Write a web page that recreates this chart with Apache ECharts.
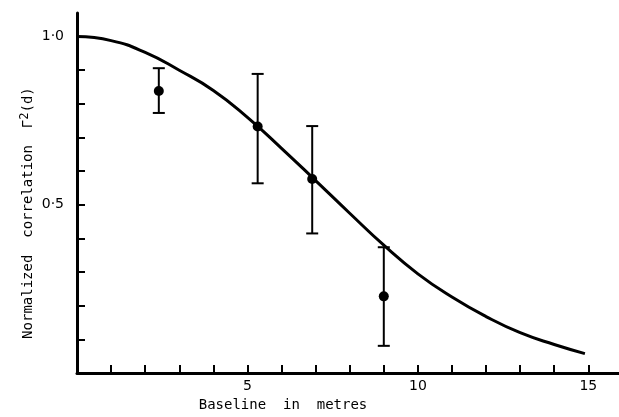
<!DOCTYPE html>
<html>
<head>
<meta charset="utf-8">
<script src="https://cdn.jsdelivr.net/npm/echarts@6/dist/echarts.min.js"></script>
<style>html,body{margin:0;padding:0;background:#fff;}#chart{width:619px;height:417px;}</style>
</head>
<body>
<div id="chart"></div>
<script>
// Measured data points with error bars
const pointX = [2.4, 5.3, 6.9, 9.0];
const pointY = [0.838, 0.733, 0.577, 0.228];
const errLow = [0.773, 0.564, 0.415, 0.081];
const errHigh = [0.906, 0.889, 0.734, 0.374];

// Theoretical curve
const curveX = [0, 1, 2, 3, 4, 5, 6, 7, 8, 9, 10, 11, 12, 13, 14, 14.9];
const curveY = [1.000, 0.988, 0.953, 0.900, 0.840, 0.760, 0.668, 0.572, 0.475, 0.380, 0.295, 0.226, 0.168, 0.120, 0.085, 0.058];

// Ticks and labels
const xTickValues = [1,2,3,4,5,6,7,8,9,10,11,12,13,14,15];
const xLabelValues = [5, 10, 15];
const yTickValues = [0.1,0.2,0.3,0.4,0.5,0.6,0.7,0.8,0.9,1.0];
const yLabelValues = [0.5, 1.0];

const xName = 'Baseline  in  metres';
const yName = 'Normalized  correlation  {g|Γ}{sup|2}{g|(d)}';

const chart = echarts.init(document.getElementById('chart'));
const font = 'DejaVu Sans';
const nameFont = 'DejaVu Sans Mono';

chart.setOption({
  animation: false,
  backgroundColor: '#ffffff',
  grid: { left: 77, right: 0, top: 13, bottom: 37 },
  xAxis: {
    type: 'value', min: 0, max: 15.9, interval: 1,
    splitLine: { show: false },
    axisLine: { onZero: false, lineStyle: { color: '#000', width: 3 } },
    axisTick: { inside: true, length: 8, lineStyle: { color: '#000', width: 2 }, customValues: xTickValues },
    axisLabel: { customValues: xLabelValues, color: '#000', fontFamily: font, fontSize: 14, margin: 6 },
    name: xName, nameLocation: 'middle', nameGap: 16,
    nameTextStyle: { color: '#000', fontFamily: nameFont, fontSize: 14, padding: [0, 130, 0, 0] }
  },
  yAxis: {
    type: 'value', min: 0, max: 1.07, interval: 0.1,
    splitLine: { show: false },
    axisLine: { onZero: false, lineStyle: { color: '#000', width: 3 } },
    axisTick: { inside: true, length: 8, lineStyle: { color: '#000', width: 2 }, customValues: yTickValues },
    axisLabel: {
      customValues: yLabelValues, color: '#000', fontFamily: font, fontSize: 14, margin: 13,
      formatter: v => v.toFixed(1).replace('.', '·')
    },
    name: yName, nameLocation: 'middle', nameGap: 40, nameRotate: 90, nameMoveOverlap: false,
    nameTextStyle: {
      color: '#000', fontFamily: nameFont, fontSize: 14, padding: [0, 40, 0, 0],
      rich: {
        g: { fontFamily: nameFont, fontSize: 14, color: '#000' },
        sup: { fontFamily: nameFont, fontSize: 12, color: '#000', verticalAlign: 'top', padding: [0, 0, 6, 0] }
      }
    }
  },
  series: [
    {
      type: 'line',
      data: curveX.map((x, i) => [x, curveY[i]]),
      smooth: 0.5,
      showSymbol: false,
      lineStyle: { color: '#000', width: 3 },
      z: 2
    },
    {
      type: 'custom',
      data: pointX.map((x, i) => [x, errLow[i], errHigh[i]]),
      renderItem: function (params, api) {
        const lo = api.coord([api.value(0), api.value(1)]);
        const hi = api.coord([api.value(0), api.value(2)]);
        const w = 6;
        const style = { stroke: '#000', lineWidth: 2 };
        return {
          type: 'group',
          children: [
            { type: 'line', shape: { x1: lo[0], y1: lo[1], x2: hi[0], y2: hi[1] }, style: style },
            { type: 'line', shape: { x1: lo[0] - w, y1: lo[1], x2: lo[0] + w, y2: lo[1] }, style: style },
            { type: 'line', shape: { x1: hi[0] - w, y1: hi[1], x2: hi[0] + w, y2: hi[1] }, style: style }
          ]
        };
      },
      z: 3
    },
    {
      type: 'scatter',
      data: pointX.map((x, i) => [x, pointY[i]]),
      symbol: 'circle',
      symbolSize: 10,
      itemStyle: { color: '#000', opacity: 1 },
      z: 4
    }
  ]
});
</script>
</body>
</html>
